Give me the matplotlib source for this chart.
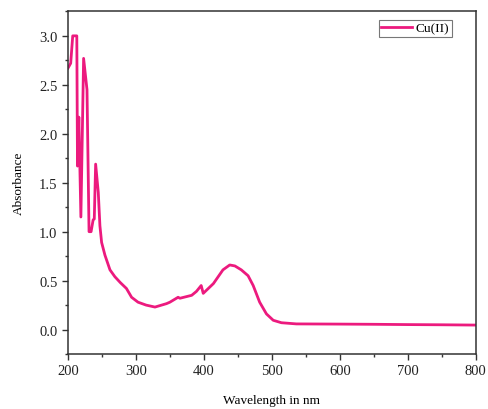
import numpy as np
import matplotlib.pyplot as plt
from matplotlib.ticker import MultipleLocator

# UV-Vis spectrum of the Cu(II) complex
wavelength = [200, 204, 207, 213, 214, 216, 219, 223, 228, 231, 234, 237, 238.7, 240.7,
              244.6, 247, 249.5, 254.4, 261.8, 269, 277, 286, 293.6, 303, 315, 328, 345,
              350, 362, 364.7, 382, 389, 396, 399, 414, 428, 438, 445.6, 455, 465, 472.5,
              482, 492, 502, 514, 536, 600, 650, 700, 750, 800]
absorbance = [2.67, 2.72, 3.0, 3.0, 1.67, 2.17, 1.15, 2.77, 2.45, 1.0, 1.0, 1.12, 1.13, 1.69,
              1.40, 1.06, 0.89, 0.76, 0.61, 0.54, 0.48, 0.42, 0.33, 0.28, 0.25, 0.23, 0.265,
              0.28, 0.33, 0.32, 0.35, 0.39, 0.45, 0.37, 0.47, 0.61, 0.66, 0.65, 0.61, 0.55, 0.45,
              0.28, 0.16, 0.095, 0.07, 0.058, 0.056, 0.054, 0.051, 0.049, 0.046]

plt.rcParams['font.family'] = ['Liberation Serif', 'DejaVu Serif']

fig = plt.figure(figsize=(4.89, 4.10), dpi=100)
ax = fig.add_axes([0.139, 0.134, 0.834, 0.837])

ax.plot(wavelength, absorbance, color='#EC1A7E', linewidth=2, label='Cu(II)')

ax.set_xlim(200, 800)
ax.set_ylim(-0.25, 3.255)
ax.xaxis.set_major_locator(MultipleLocator(100))
ax.xaxis.set_minor_locator(MultipleLocator(50))
ax.yaxis.set_major_locator(MultipleLocator(0.5))
ax.yaxis.set_minor_locator(MultipleLocator(0.25))
ax.yaxis.set_major_formatter(plt.FormatStrFormatter('%.1f'))
ax.tick_params(which='major', direction='out', length=4, width=1, labelsize=10.5,
               colors='#333333', labelcolor='#222222')
ax.tick_params(which='minor', direction='out', length=2.5, width=1, colors='#333333')

for s in ax.spines.values():
    s.set_color('#333333')
    s.set_linewidth(1.1)

ax.set_xlabel('Wavelength in nm', fontsize=9.5, labelpad=12)
ax.set_ylabel('Absorbance', fontsize=9.5, labelpad=10)

# small square-cornered legend box in the top right
leg = ax.legend(loc='upper right', fontsize=9.5, frameon=True, fancybox=False,
                handlelength=2.3, handletextpad=0.3, borderpad=0.2, borderaxespad=0,
                bbox_to_anchor=(0.941, 0.974))
leg.get_frame().set_edgecolor('#555555')
leg.get_frame().set_linewidth(0.8)

fig.savefig('out.png', dpi=100)
